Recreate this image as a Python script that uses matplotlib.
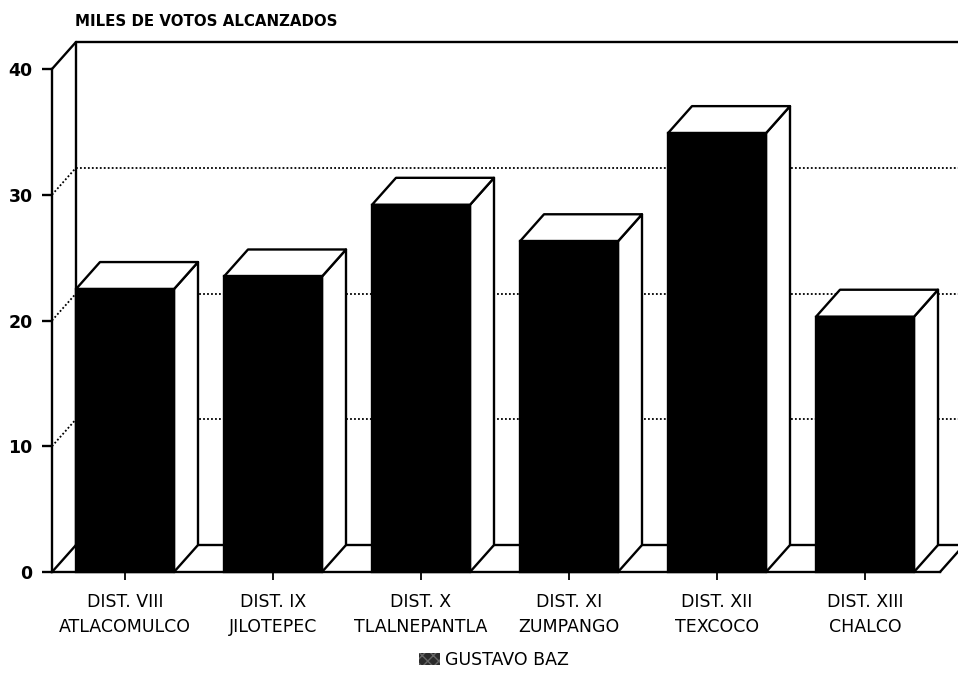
import matplotlib.pyplot as plt
from matplotlib.patches import Polygon, Patch
import numpy as np

# Datos: miles de votos por distrito
distritos = ["DIST. VIII", "DIST. IX", "DIST. X", "DIST. XI", "DIST. XII", "DIST. XIII"]
cabeceras = ["ATLACOMULCO", "JILOTEPEC", "TLALNEPANTLA", "ZUMPANGO", "TEXCOCO", "CHALCO"]
votos = [22.5, 23.5, 29.2, 26.3, 34.9, 20.3]
marcas_y = [0, 10, 20, 30, 40]
serie = "GUSTAVO BAZ"

fuente = "DejaVu Sans"
plt.rcParams['font.family'] = [fuente]

fig = plt.figure(figsize=(9.58, 6.74), dpi=100)
ax = fig.add_axes([52/958, 102/674, 888/958, 503/674])
n = len(votos)
ax.set_xlim(0, n)
ax.set_ylim(0, 40)

# Profundidad del efecto 3D (en unidades de datos)
dx = 24 / 148
dy = 27 / 12.575
ancho_barra = 98 / 148
izq = dx
lw = 1.7

# Pared del fondo y piso
kw = dict(color='black', lw=lw, clip_on=False, solid_capstyle='round')
ax.plot([dx, dx], [dy, 40 + dy], zorder=1, **kw)
ax.plot([dx, n + dx], [40 + dy, 40 + dy], zorder=1, **kw)
ax.plot([0, dx], [40, 40 + dy], zorder=1, **kw)
ax.plot([0, dx], [0, dy], zorder=1, **kw)
ax.plot([dx, n + dx], [dy, dy], zorder=1, **kw)
ax.plot([n, n + dx], [0, dy], zorder=1, **kw)

# Rejilla punteada en pared lateral y de fondo
for v in marcas_y[1:-1]:
    ax.plot([0, dx], [v, v + dy], color='black', lw=1.3, ls=(0, (1, 1.2)),
            clip_on=False, zorder=1)
    ax.plot([dx, n + dx], [v + dy, v + dy], color='black', lw=1.3,
            ls=(0, (1, 1.2)), clip_on=False, zorder=1)

# Barras con cara frontal negra, tapa y costado blancos
for i, v in enumerate(votos):
    L = i + izq
    R = L + ancho_barra
    frente = Polygon([(L, 0), (R, 0), (R, v), (L, v)], closed=True,
                     facecolor='black', edgecolor='black', lw=lw, zorder=3)
    tapa = Polygon([(L, v), (R, v), (R + dx, v + dy), (L + dx, v + dy)],
                   closed=True, facecolor='white', edgecolor='black', lw=lw,
                   joinstyle='round', zorder=2)
    costado = Polygon([(R, 0), (R + dx, dy), (R + dx, v + dy), (R, v)],
                      closed=True, facecolor='white', edgecolor='black', lw=lw,
                      joinstyle='round', zorder=2)
    for p in (costado, tapa, frente):
        p.set_clip_on(False)
        ax.add_patch(p)

# Ejes
for lado in ['top', 'right']:
    ax.spines[lado].set_visible(False)
for lado in ['left', 'bottom']:
    ax.spines[lado].set_linewidth(lw)
    ax.spines[lado].set_zorder(4)

ax.set_yticks(marcas_y)
ax.set_yticklabels([str(m) for m in marcas_y], fontsize=12.5, fontweight='bold')
ax.tick_params(axis='y', length=7, width=1.7, pad=7)

centros = np.arange(n) + izq + ancho_barra / 2
ax.set_xticks(centros)
ax.set_xticklabels([f"{d}\n{c}" for d, c in zip(distritos, cabeceras)],
                   fontsize=12.5, linespacing=1.5)
ax.tick_params(axis='x', length=6, width=1.3, pad=9)

fig.text(75/958, 1 - 21/674, "MILES DE VOTOS ALCANZADOS", fontsize=10.8,
         fontweight='bold', va='center', ha='left')

fig.legend(handles=[Patch(facecolor='#2b2b2b', edgecolor='#666666', hatch='xxx',
                          lw=0, label=serie)],
           loc='center', bbox_to_anchor=(494/958, 1 - 660/674), frameon=False,
           fontsize=12.5, handlelength=1.2, handleheight=0.7, handletextpad=0.3)

fig.savefig("out.png", dpi=100)
